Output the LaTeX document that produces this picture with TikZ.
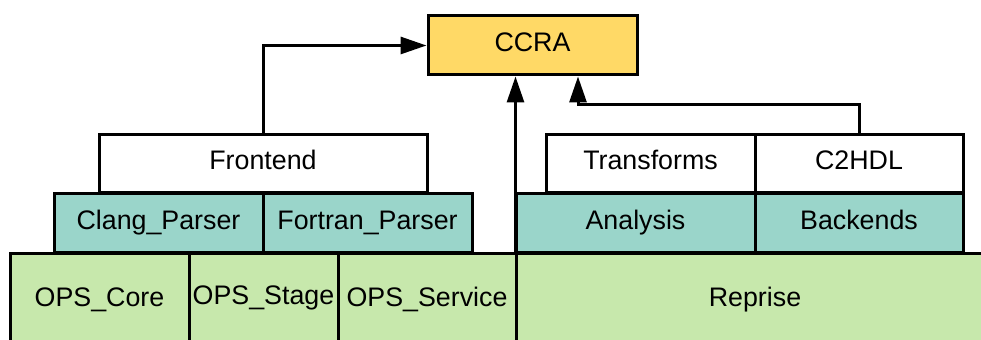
\documentclass[tikz,border=0pt]{standalone}
\usepackage{fontspec}
\setmainfont{Liberation Sans}
\usetikzlibrary{arrows.meta}

\definecolor{ccrayellow}{RGB}{255,217,102}
\definecolor{parserteal}{RGB}{154,213,202}
\definecolor{opsgreen}{RGB}{199,232,172}

\tikzset{
  block/.style={draw, line width=1.5pt, inner sep=0pt, text height=9.2pt, text depth=3.2pt,
    font=\fontsize{13.4}{15}\selectfont},
  arr/.style={line width=1.5pt, -{Triangle[length=13pt,width=8.5pt]}}
}

\begin{document}
\begin{tikzpicture}[x=0.5pt, y=-0.5pt]
    \useasboundingbox (0,0) rectangle (981,340);

    \node [block, fill=ccrayellow, minimum width=104.5pt, minimum height=29.5pt] (ccra) at (532.5,45.5) {CCRA};

    \node [block, fill=white, minimum width=164pt, minimum height=29pt] (frontend) at (263,164) {Frontend};
    \node [block, fill=white, minimum width=104.5pt, minimum height=29pt] (transforms) at (650.5,164) {Transforms};
    \node [block, fill=white, minimum width=104pt, minimum height=29pt] (c2hdl) at (859,164) {C2HDL};

    \node [block, fill=parserteal, minimum width=104.5pt, minimum height=29.5pt] (clang) at (158.5,223.5) {Clang\_Parser};
    \node [block, fill=parserteal, minimum width=104.5pt, minimum height=29.5pt] (fortran) at (367.5,223.5) {Fortran\_Parser};
    \node [block, fill=parserteal, minimum width=119.5pt, minimum height=29.5pt] (analysis) at (635.5,223.5) {Analysis};
    \node [block, fill=parserteal, minimum width=104pt, minimum height=29.5pt] (backends) at (859,223.5) {Backends};

    \node [block, fill=opsgreen, minimum width=89.5pt, minimum height=47pt] (opscore) at (99.5,301) {OPS\_Core};
    \node [block, fill=opsgreen, minimum width=74.5pt, minimum height=47pt] (opsstage) at (263.5,301) {\raisebox{1pt}{OPS\_Stage}};
    \node [block, fill=opsgreen, minimum width=89pt, minimum height=47pt] (opsservice) at (427,301) {OPS\_Service};
    \node [block, fill=opsgreen, minimum width=239pt, minimum height=47pt] (reprise) at (755,301) {Reprise};

    \coordinate (bend) at (578,105);
    \draw [arr] (frontend.north) |- (ccra.west);
    \draw [arr] ([xshift=0.5pt]reprise.north west) -- ([xshift=0.5pt]reprise.north west |- ccra.south);
    \draw [arr] (c2hdl.north) |- (bend) -- (bend |- ccra.south);
\end{tikzpicture}
\end{document}
